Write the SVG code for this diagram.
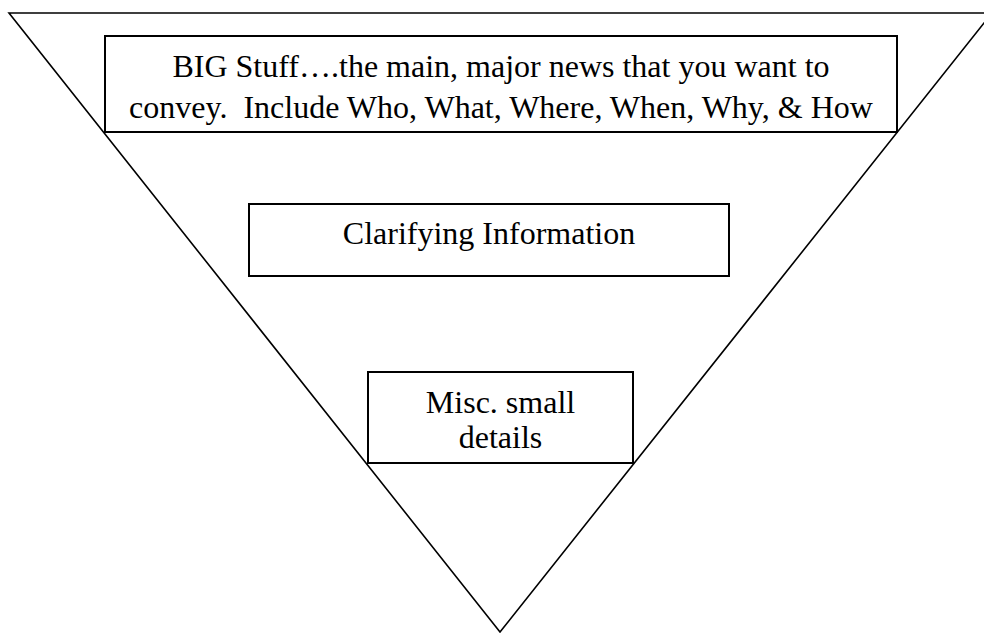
<svg xmlns="http://www.w3.org/2000/svg" width="984" height="633" viewBox="0 0 984 633">
<style>
.tri{fill:none;stroke:#000;stroke-width:1.6;stroke-linejoin:miter}
.box{fill:#fff;stroke:#000;stroke-width:2}
.t{font-family:"Liberation Serif","Times New Roman",serif;font-size:32px;fill:#000;text-anchor:middle}
</style>
<rect width="984" height="633" fill="#fff"/>
<g id="triangle">
<polygon class="tri" points="9,13 992,13 500,632"/>
</g>
<g id="connectors"></g>
<g id="node-big">
<rect class="box" x="105" y="36" width="792" height="96"/>
<text class="t" x="501" y="77">BIG Stuff….the main, major news that you want to</text>
<text class="t" x="501" y="118" xml:space="preserve">convey.  Include Who, What, Where, When, Why, &amp; How</text>
</g>
<g id="node-clarifying">
<rect class="box" x="249" y="204" width="480" height="72"/>
<text class="t" x="489" y="244">Clarifying Information</text>
</g>
<g id="node-misc">
<rect class="box" x="368" y="372" width="265" height="91"/>
<text class="t" x="500.5" y="413">Misc. small</text>
<text class="t" x="500.5" y="448">details</text>
</g>
</svg>
